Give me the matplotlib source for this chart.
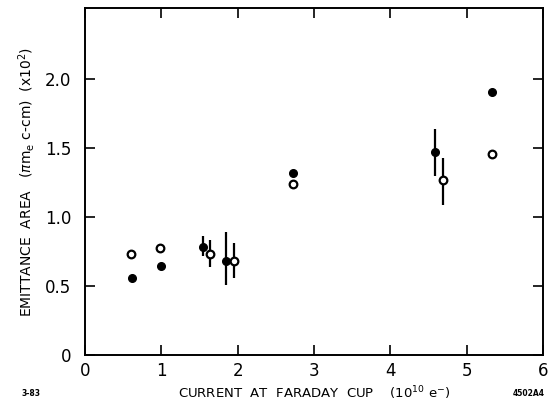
import matplotlib
matplotlib.use("Agg")
import matplotlib.pyplot as plt

# Filled-circle series
filled_x = [0.61, 0.99, 1.54, 1.85, 2.73, 4.59, 5.33]
filled_y = [0.556, 0.645, 0.785, 0.681, 1.316, 1.473, 1.906]
filled_err_lo = [0, 0, 0.068, 0.174, 0, 0.173, 0]
filled_err_hi = [0, 0, 0.077, 0.208, 0, 0.162, 0]

# Open-circle series
open_x = [0.60, 0.98, 1.64, 1.95, 2.73, 4.69, 5.33]
open_y = [0.734, 0.775, 0.732, 0.683, 1.240, 1.268, 1.460]
open_err_lo = [0, 0, 0.092, 0.127, 0, 0.181, 0]
open_err_hi = [0, 0, 0.101, 0.131, 0, 0.157, 0]

x_ticks = [0, 1, 2, 3, 4, 5, 6]
x_ticklabels = ["0", "1", "2", "3", "4", "5", "6"]
y_ticks = [0, 0.5, 1.0, 1.5, 2.0]
y_ticklabels = ["0", "0.5", "1.0", "1.5", "2.0"]

plt.rcParams['font.family'] = ['DejaVu Sans']
fig = plt.figure(figsize=(5.53, 4.01), dpi=100)
ax = fig.add_axes([85/553, 46/401, 458/553, 347/401])

def bars(xs, ys, lo, hi):
    for x, y, l, h in zip(xs, ys, lo, hi):
        if l or h:
            ax.errorbar([x], [y], yerr=[[l], [h]], fmt='none', ecolor='black',
                        elinewidth=1.6, capsize=0, zorder=2)

bars(filled_x, filled_y, filled_err_lo, filled_err_hi)
bars(open_x, open_y, open_err_lo, open_err_hi)

ax.plot(filled_x, filled_y, linestyle='none', marker='o', ms=5.5,
        mfc='black', mec='black', zorder=3)
ax.plot(open_x, open_y, linestyle='none', marker='o', ms=5.5,
        mfc='white', mec='black', mew=1.6, zorder=3)

ax.set_xlim(0, 6)
ax.set_ylim(0, 2.515)
ax.set_xticks(x_ticks)
ax.set_xticklabels(x_ticklabels)
ax.set_yticks(y_ticks)
ax.set_yticklabels(y_ticklabels)

for s in ax.spines.values():
    s.set_linewidth(1.4)

ax.tick_params(axis='both', which='major', direction='in', length=7, width=1.2,
               top=True, right=True, labelsize=12)
ax.tick_params(axis='x', pad=5)
ax.tick_params(axis='y', pad=10)

fig.text(314/553, 1 - 398/401,
         r"CURRENT  AT  FARADAY  CUP    (10$^{10}$ e$^{-}$)",
         fontsize=9.5, ha='center', va='baseline')
fig.text(27/553, 1 - 182/401,
         r"EMITTANCE  AREA   ($\pi$m$_{\mathrm{e}}$ c-cm)  (x10$^{2}$)",
         fontsize=10, ha='center', va='center', rotation=90)

fig.text(22/553, 1 - 394/401, "3-83", fontsize=5.5, fontweight='bold',
         va='center', ha='left')
fig.text(545/553, 1 - 393/401, "4502A4", fontsize=5.5, fontweight='bold',
         va='center', ha='right')

fig.savefig("out.png", dpi=100)
